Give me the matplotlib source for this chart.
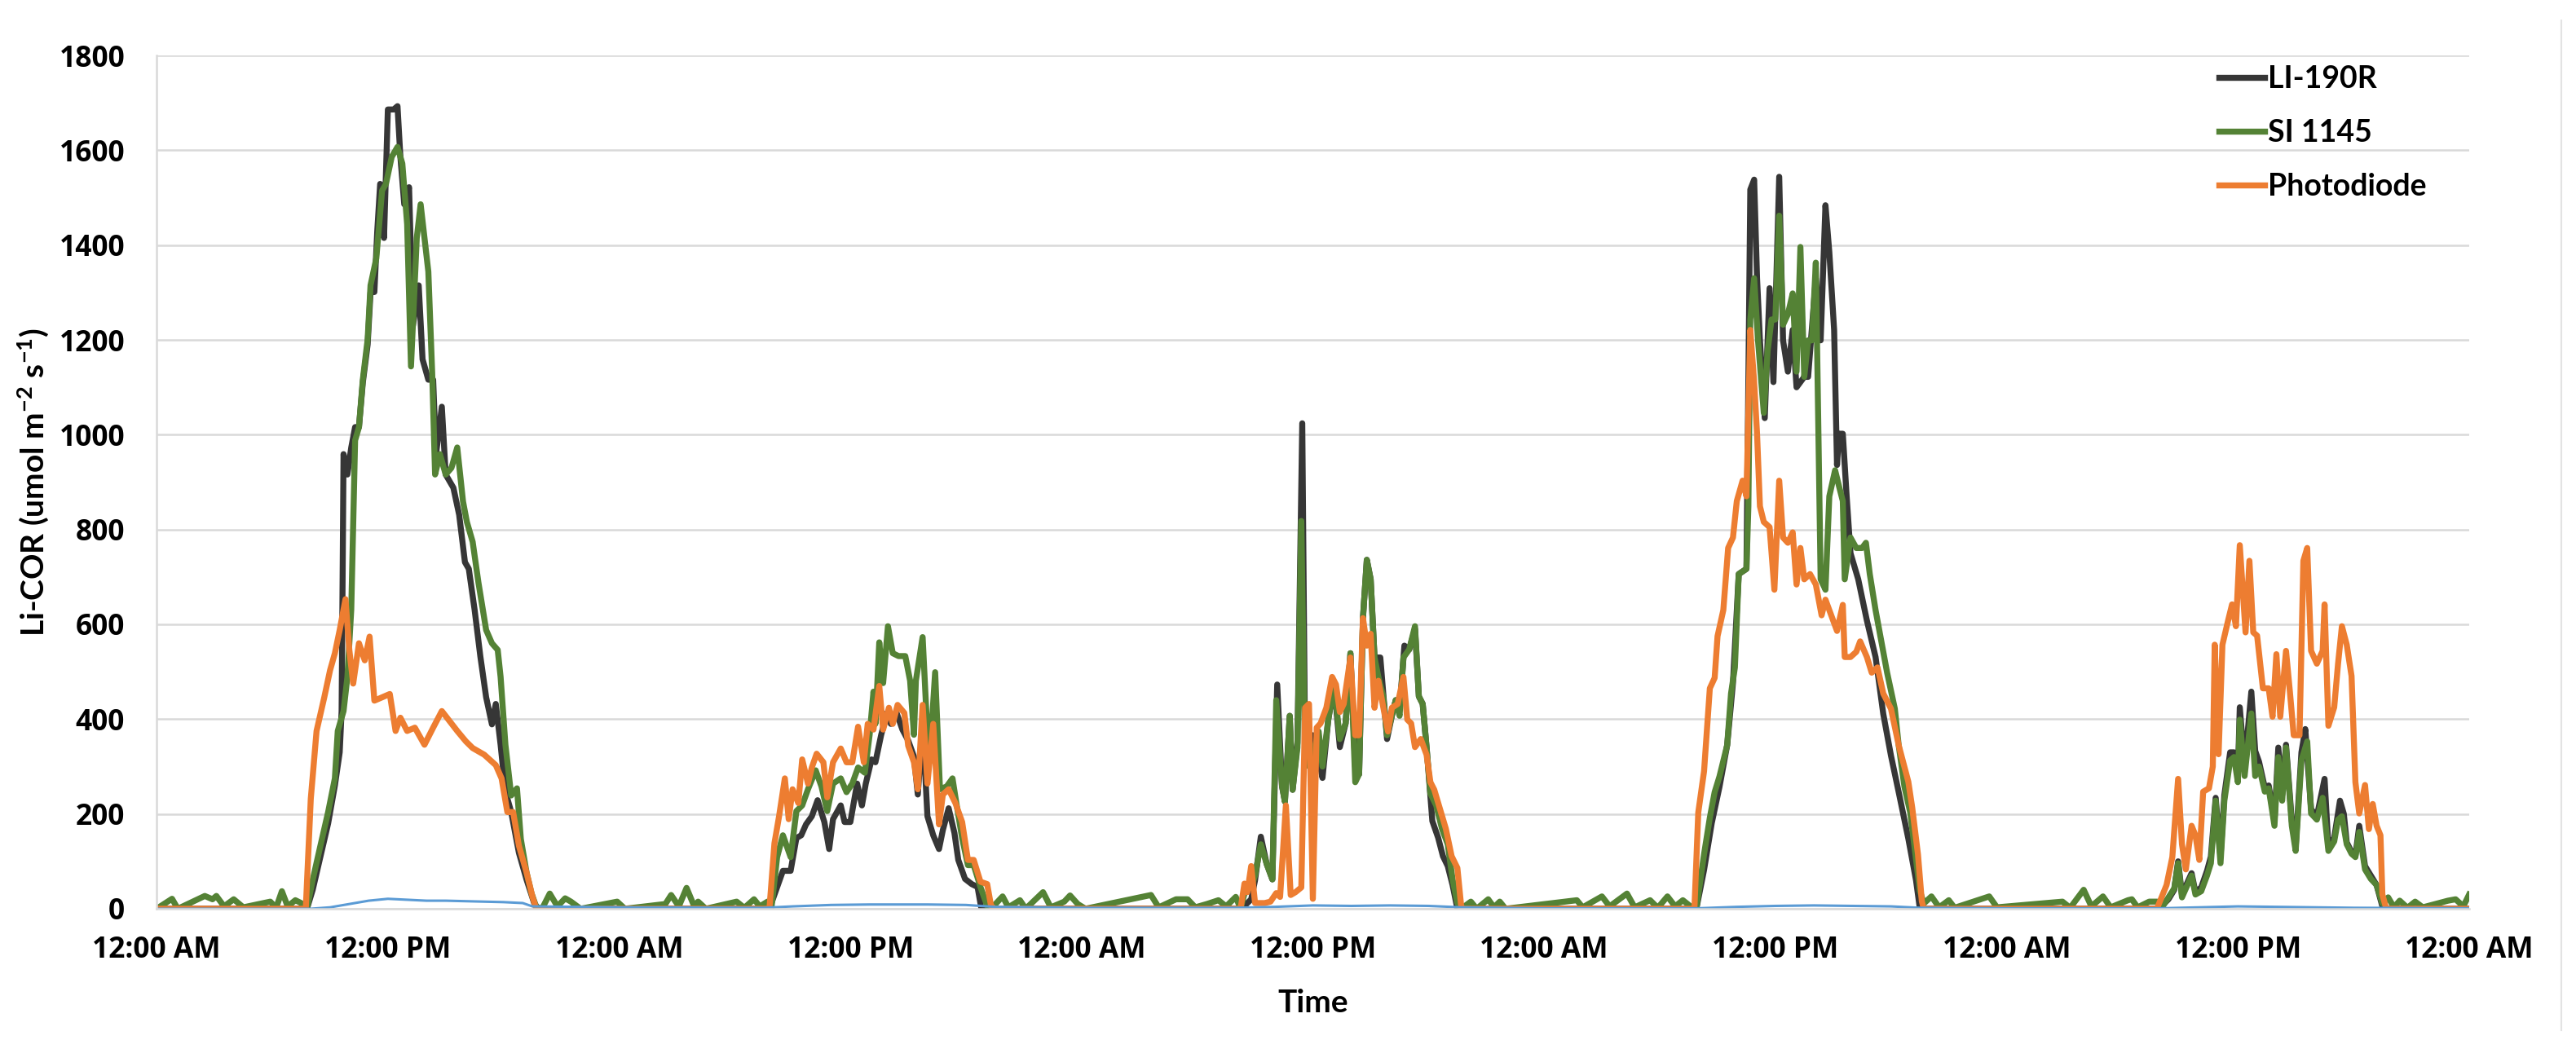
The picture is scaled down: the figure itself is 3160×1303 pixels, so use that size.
import numpy as np
import matplotlib.pyplot as plt
from matplotlib.lines import Line2D

# five days of PAR readings, time in hours from the first midnight
li190r_hours = [0, 7.8, 8.1, 8.5, 8.9, 9.25, 9.5, 9.6, 9.7, 9.9, 10.1, 10.3, 10.5, 10.7, 10.95, 11.1, 11.3, 11.45,
                11.6, 11.8, 12.0, 12.3, 12.5, 12.65, 12.85, 13.1, 13.3, 13.6, 13.8, 14.1, 14.35, 14.5, 14.8, 15.0,
                15.4, 15.7, 16.0, 16.2, 16.5, 16.8, 17.1, 17.4, 17.6, 17.85, 18.1, 18.4, 18.8, 19.2, 19.6, 19.8,
                31.8, 32.2, 32.5, 32.9, 33.2, 33.45, 33.7, 34.0, 34.3, 34.65, 34.9, 35.1, 35.5, 35.7, 36.0, 36.35,
                36.6, 36.8, 37.1, 37.3, 37.6, 37.9, 38.1, 38.4, 38.7, 39.0, 39.3, 39.5, 39.75, 40.0, 40.3, 40.6,
                40.8, 41.1, 41.4, 41.6, 41.95, 42.3, 42.6, 42.8,
                56.3, 56.8, 57.0, 57.3, 57.6, 57.9, 58.15, 58.4, 58.55, 58.8, 58.95, 59.2, 59.45, 59.6, 59.8, 60.0,
                60.3, 60.5, 60.8, 61.1, 61.4, 61.7, 61.95, 62.2, 62.4, 62.6, 62.8, 63.0, 63.2, 63.5, 63.85, 64.1,
                64.3, 64.5, 64.75, 65.0, 65.3, 65.5, 65.7, 65.9, 66.2, 66.5, 66.75, 67.0, 67.25, 67.5,
                79.9, 80.3, 80.7, 81.1, 81.5, 81.8, 82.1, 82.5, 82.7, 82.9, 83.05, 83.2, 83.45, 83.7, 83.9, 84.2,
                84.4, 84.65, 84.9, 85.1, 85.5, 85.7, 86.1, 86.35, 86.6, 86.8, 87.05, 87.2, 87.3, 87.5, 87.7, 87.9,
                88.3, 88.75, 89.2, 89.6, 90.0, 90.4, 90.9, 91.3, 91.5,
                103.9, 104.4, 104.7, 104.9, 105.1, 105.6, 105.8, 106.1, 106.4, 106.6, 106.85, 107.1, 107.3, 107.6,
                107.8, 108.0, 108.1, 108.35, 108.7, 108.9, 109.1, 109.4, 109.6, 109.9, 110.1, 110.3, 110.5, 110.8,
                111.0, 111.3, 111.5, 111.8, 112.1, 112.5, 112.7, 113.0, 113.3, 113.5, 113.65, 113.9, 114.1, 114.3,
                114.6, 114.9, 115.2, 115.5, 115.7, 120]
li190r = [0, 0, 40, 110, 180, 260, 330, 417, 959, 916, 973, 1016, 1016, 1110, 1190, 1300, 1301, 1430,
          1529, 1415, 1686, 1686, 1693, 1586, 1486, 1522, 1230, 1315, 1159, 1116, 1116, 959, 1059, 916,
          888, 831, 731, 717, 631, 532, 446, 389, 432, 346, 247, 204, 118, 61, 11, 0,
          0, 46, 80, 80, 149, 155, 178, 195, 229, 183, 126, 189, 218, 183, 183, 264,
          218, 264, 315, 309, 367, 413, 390, 413, 378, 355, 321, 241, 390, 195, 155, 126,
          166, 212, 160, 103, 63, 52, 46, 0,
          0, 20, 60, 152, 95, 62, 473, 259, 226, 407, 251, 350, 1024, 320, 366, 366,
          320, 276, 399, 473, 341, 391, 539, 300, 284, 613, 736, 695, 530, 530, 358, 407,
          440, 420, 555, 547, 590, 448, 432, 341, 185, 150, 111, 90, 50, 0,
          0, 82, 181, 257, 345, 476, 706, 717, 1517, 1538, 1330, 1199, 1035, 1309, 1111, 1544,
          1199, 1133, 1221, 1100, 1122, 1122, 1330, 1199, 1484, 1385, 1221, 936, 1002, 1002, 870, 750,
          695, 608, 531, 411, 323, 246, 148, 60, 0,
          0, 20, 40, 100, 30, 75, 35, 45, 80, 110, 234, 110, 240, 330,
          330, 280, 425, 300, 458, 333, 310, 255, 260, 185, 340, 240, 346, 185,
          130, 330, 379, 210, 195, 274, 130, 150, 228, 200, 140, 120, 112, 175,
          90, 70, 50, 5, 0, 0]

si1145_hours = [0, 0.8, 1.1, 2.5, 2.9, 3.1, 3.5, 4.0, 4.5, 5.9, 6.2, 6.5, 6.8, 7.2, 7.5, 7.8,
                8.1, 8.5, 8.9, 9.25, 9.4, 9.7, 9.9, 10.1, 10.3, 10.5, 10.7, 10.95, 11.1, 11.4, 11.7, 11.9,
                12.2, 12.5, 12.75, 13.0, 13.2, 13.5, 13.7, 14.1, 14.3, 14.45, 14.7, 15.0, 15.3, 15.6, 15.9, 16.1,
                16.4, 16.7, 17.1, 17.4, 17.7, 17.85, 18.1, 18.4, 18.7, 18.9, 19.2, 19.45, 19.7,
                20.0, 20.4, 20.8, 21.2, 21.5, 22.0, 23.9, 24.3, 26.4, 26.7, 27.1, 27.5, 27.9, 28.1, 28.5,
                30.1, 30.5, 31.0, 31.3, 31.7, 31.9,
                32.2, 32.5, 32.9, 33.2, 33.5, 33.8, 34.2, 34.5, 34.8, 35.1, 35.5, 35.8, 36.1, 36.4, 36.75, 37.0,
                37.2, 37.3, 37.5, 37.7, 37.95, 38.2, 38.5, 38.85, 39.1, 39.3, 39.4, 39.75, 40.0, 40.1, 40.4, 40.65,
                41.0, 41.3, 41.5, 41.8, 42.1, 42.4, 42.75, 43.1, 43.3,
                43.9, 44.2, 44.8, 45.1, 46.0, 46.4, 47.1, 47.4, 47.8, 48.2, 51.6, 52.0, 52.9, 53.5, 53.9, 54.5,
                55.1, 55.5, 56.0, 56.25,
                56.5, 56.8, 57.0, 57.3, 57.6, 57.9, 58.1, 58.4, 58.55, 58.8, 58.95, 59.2, 59.4, 59.6, 59.8, 60.0,
                60.3, 60.5, 60.8, 61.1, 61.4, 61.7, 61.95, 62.2, 62.4, 62.6, 62.8, 63.0, 63.2, 63.4, 63.65, 63.85,
                64.1, 64.3, 64.5, 64.7, 65.0, 65.3, 65.5, 65.7, 65.9, 66.1, 66.4, 66.7, 67.0, 67.25, 67.5, 67.7,
                68.2, 68.5, 69.1, 69.4, 69.7, 70.0, 73.7, 74.0, 75.0, 75.4, 76.3, 76.7, 77.5, 77.9, 78.4, 78.8,
                79.2, 79.6, 79.9,
                80.3, 80.6, 80.85, 81.1, 81.5, 81.7, 81.9, 82.1, 82.5, 82.6, 82.7, 82.9, 83.1, 83.4, 83.6, 83.8,
                84.0, 84.2, 84.4, 84.65, 84.9, 85.1, 85.3, 85.5, 85.7, 85.9, 86.1, 86.35, 86.6, 86.8, 87.1, 87.3,
                87.5, 87.6, 87.9, 88.2, 88.5, 88.7, 88.9, 89.2, 89.5, 89.8, 90.2, 90.4, 90.7, 91.0, 91.3, 91.5, 91.7,
                92.1, 92.5, 93.0, 93.3, 95.1, 95.5, 98.9, 99.3, 100.0, 100.4, 101.0, 101.4, 102.3, 102.5, 102.8,
                103.4, 103.8,
                104.1, 104.4, 104.7, 104.9, 105.1, 105.6, 105.8, 106.1, 106.4, 106.6, 106.85, 107.1, 107.3, 107.6,
                107.8, 108.0, 108.1, 108.35, 108.7, 108.9, 109.1, 109.4, 109.6, 109.9, 110.1, 110.3, 110.5, 110.8,
                111.0, 111.3, 111.6, 111.8, 112.1, 112.4, 112.7, 113.0, 113.2, 113.4, 113.65, 113.9, 114.1, 114.3,
                114.6, 114.9, 115.2, 115.5, 115.8,
                116.1, 116.4, 116.8, 117.2, 117.6, 118.9, 119.3, 119.7, 120.0]
si1145 = [0, 21, 0, 27, 20, 27, 5, 20, 3, 15, 2, 37, 5, 18, 12, 0,
          61, 133, 204, 275, 375, 417, 489, 631, 988, 1016, 1116, 1201, 1315, 1372, 1515, 1529,
          1586, 1607, 1572, 1444, 1144, 1415, 1486, 1344, 1130, 916, 959, 916, 930, 973, 859, 816,
          774, 688, 588, 560, 546, 489, 346, 239, 254, 147, 76, 33, 4,
          0, 32, 5, 22, 15, 0, 15, 0, 10, 29, 5, 44, 5, 15, 0,
          15, 2, 20, 5, 15, 0,
          109, 155, 109, 206, 218, 252, 292, 258, 206, 264, 275, 246, 264, 298, 287, 367,
          458, 390, 562, 476, 596, 539, 533, 533, 481, 367, 481, 573, 367, 309, 499, 252,
          258, 275, 223, 149, 92, 92, 46, 6, 0,
          26, 3, 18, 0, 35, 3, 15, 28, 10, 0, 29, 3, 20, 20, 3, 10,
          18, 5, 25, 0,
          40, 45, 70, 136, 95, 62, 440, 259, 226, 407, 251, 340, 818, 300, 325, 325,
          374, 300, 399, 473, 358, 391, 539, 267, 284, 613, 736, 695, 530, 489, 448, 366,
          407, 440, 407, 530, 547, 596, 448, 432, 341, 243, 218, 169, 136, 62, 12, 0,
          15, 0, 20, 3, 15, 0, 18, 3, 26, 5, 32, 3, 18, 2, 26, 5,
          18, 5, 0,
          115, 192, 246, 279, 345, 454, 509, 706, 717, 849, 1243, 1330, 1199, 1046, 1177, 1243,
          1243, 1462, 1232, 1254, 1298, 1133, 1396, 1122, 1199, 1199, 1363, 695, 673, 870, 925, 892,
          860, 695, 783, 761, 761, 772, 706, 630, 564, 498, 422, 345, 257, 203, 104, 38, 11,
          26, 3, 18, 2, 26, 3, 15, 2, 40, 5, 26, 3, 18, 20, 3,
          15, 15,
          5, 24, 43, 96, 24, 70, 30, 37, 70, 96, 228, 96, 228, 313,
          320, 267, 399, 280, 412, 280, 300, 247, 254, 175, 320, 228, 340, 175,
          122, 313, 353, 201, 188, 234, 122, 142, 188, 195, 136, 116, 109, 162,
          83, 63, 50, 11, 24,
          3, 17, 2, 15, 3, 17, 20, 5, 30]

photodiode_hours = [0, 7.74, 8.0, 8.3, 8.7, 9.0, 9.25, 9.5, 9.8, 10.0, 10.2, 10.5, 10.8, 11.05, 11.3, 11.7,
                    12.1, 12.4, 12.65, 13.0, 13.4, 13.9, 14.35, 14.8, 15.2, 15.6, 16.05, 16.4, 17.0, 17.6, 17.9,
                    18.2, 18.5, 18.8, 19.2, 19.5, 19.7,
                    31.8, 32.06, 32.3, 32.6, 32.8, 33.0, 33.3, 33.5, 33.8, 34.0, 34.25, 34.6, 34.8, 35.1, 35.5,
                    35.8, 36.1, 36.4, 36.7, 36.9, 37.2, 37.5, 37.7, 38.0, 38.2, 38.45, 38.8, 39.0, 39.3, 39.5,
                    39.75, 40.0, 40.3, 40.6, 40.8, 41.1, 41.45, 41.8, 42.1, 42.4, 42.75, 43.1, 43.3, 43.5,
                    56.25, 56.45, 56.6, 56.8, 57.0, 57.5, 57.8, 58.1, 58.3, 58.6, 58.85, 59.1, 59.4, 59.6, 59.8,
                    60.0, 60.2, 60.4, 60.7, 61.0, 61.2, 61.4, 61.6, 61.95, 62.2, 62.4, 62.6, 62.8, 63.0, 63.2,
                    63.4, 63.7, 63.9, 64.1, 64.4, 64.7, 64.9, 65.1, 65.3, 65.6, 65.9, 66.1, 66.3, 66.6, 66.9,
                    67.2, 67.5, 67.7, 67.8,
                    79.8, 80.0, 80.3, 80.6, 80.85, 81.0, 81.3, 81.55, 81.8, 82.0, 82.3, 82.5, 82.7, 82.9, 83.05,
                    83.2, 83.4, 83.7, 83.95, 84.2, 84.4, 84.65, 84.9, 85.1, 85.3, 85.5, 85.8, 86.1, 86.4, 86.6,
                    86.9, 87.2, 87.5, 87.6, 87.9, 88.2, 88.4, 88.75, 89.0, 89.3, 89.6, 90.0, 90.4, 90.9, 91.1,
                    91.4, 91.6, 91.7,
                    103.8, 104.3, 104.6, 104.9, 105.1, 105.3, 105.6, 105.8, 106.0, 106.2, 106.5, 106.7, 106.8,
                    107.0, 107.2, 107.5, 107.7, 107.9, 108.1, 108.4, 108.6, 108.8, 109.0, 109.3, 109.6, 109.8,
                    110.0, 110.2, 110.5, 110.7, 110.9, 111.2, 111.4, 111.6, 111.8, 112.1, 112.4, 112.5, 112.7,
                    113.0, 113.2, 113.4, 113.65, 113.9, 114.1, 114.3, 114.6, 114.8, 115.0, 115.2, 115.4, 115.5,
                    115.7, 120]
photodiode = [0, 0, 232, 375, 446, 503, 539, 588, 653, 546, 475, 560, 524, 574, 439, 446,
              453, 375, 403, 375, 382, 346, 382, 417, 396, 375, 353, 339, 325, 303, 275,
              204, 204, 133, 76, 26, 0,
              0, 138, 195, 275, 189, 252, 223, 315, 264, 298, 327, 309, 235, 309, 338,
              309, 309, 384, 309, 390, 378, 470, 378, 424, 390, 430, 413, 344, 309, 252,
              430, 264, 390, 178, 241, 252, 223, 183, 103, 103, 57, 52, 6, 0,
              0, 53, 35, 90, 12, 12, 15, 33, 25, 218, 29, 35, 45, 424, 432,
              21, 382, 391, 424, 489, 473, 415, 432, 530, 366, 366, 613, 555, 580, 424,
              481, 415, 374, 424, 432, 489, 399, 391, 341, 358, 325, 267, 251, 210, 169,
              111, 86, 4, 0,
              0, 203, 290, 465, 487, 575, 630, 761, 783, 860, 903, 870, 1221, 1111, 1002,
              849, 816, 805, 673, 903, 783, 772, 794, 684, 761, 695, 706, 684, 619, 652,
              619, 586, 641, 531, 531, 542, 564, 531, 498, 509, 454, 422, 345, 268, 214,
              115, 16, 0,
              0, 50, 109, 274, 136, 83, 175, 155, 103, 247, 254, 300, 557,
              326, 557, 609, 642, 596, 767, 583, 734, 583, 576, 465, 465, 405,
              537, 405, 544, 458, 366, 366, 734, 761, 544, 517, 544, 642, 386,
              425, 517, 596, 557, 491, 267, 201, 261, 168, 221, 175, 155, 30,
              0, 0]

# unlabelled reference trace sitting just above zero
blue_hours = [0, 8, 9, 10, 11, 12, 13, 14, 15, 16, 17, 18, 19, 19.5, 24, 31.5, 33, 35, 37, 40, 42, 43.5,
              48, 56, 58, 60, 62, 64, 66, 67.7, 72, 80, 82, 84, 86, 88, 90, 91.5, 96, 104, 106, 108, 110,
              112, 114, 120]
blue = [0, 0, 3, 10, 17, 21, 19, 17, 17, 16, 15, 14, 12, 5, 3, 2, 5, 8, 9, 9, 8, 4,
        2, 2, 4, 7, 6, 7, 6, 3, 1, 1, 4, 6, 7, 6, 5, 2, 1, 1, 3, 5, 4,
        3, 2, 1]

tick_hours = np.arange(0, 121, 12)
tick_labels = ['12:00 AM' if h % 24 == 0 else '12:00 PM' for h in tick_hours]

plt.rcParams['mathtext.default'] = 'regular'

fig = plt.figure(figsize=(31.6, 13.03), dpi=100)
fig.subplots_adjust(left=0.0608, right=0.9585, bottom=0.1443, top=0.9478)
ax = fig.add_subplot(111)

lw = 5.3
ax.plot(li190r_hours, li190r, color='#363636', lw=lw, solid_joinstyle='round', label='LI-190R')
ax.plot(si1145_hours, si1145, color='#548235', lw=lw, solid_joinstyle='round', label='SI 1145')
ax.plot(photodiode_hours, photodiode, color='#ED7D31', lw=lw, solid_joinstyle='round', label='Photodiode')
ax.plot(blue_hours, blue, color='#5B9BD5', lw=2.2)

ax.set_xlim(0, 120)
ax.set_ylim(0, 1800)
ax.set_yticks(np.arange(0, 1801, 200))
ax.set_xticks(tick_hours)
ax.set_xticklabels(tick_labels)

tick_font = dict(family='Open Sans', weight='bold', size=25.5)
for lab in ax.get_xticklabels() + ax.get_yticklabels():
    lab.set_fontproperties(tick_font)
ax.tick_params(axis='both', length=0)
ax.tick_params(axis='y', pad=28)
ax.tick_params(axis='x', pad=24)

ax.yaxis.grid(True, color='#d9d9d9', lw=1.8)
ax.set_axisbelow(True)
for side in ['top', 'right']:
    ax.spines[side].set_visible(False)
for side in ['left', 'bottom']:
    ax.spines[side].set_color('#d9d9d9')
    ax.spines[side].set_linewidth(1.8)

ax.set_xlabel('Time', family='Lato', weight='bold', size=28)
ax.set_ylabel('Li-COR (umol m$^{-2}$ s$^{-1}$)', family='Lato', weight='bold', size=28)
ax.xaxis.set_label_coords(0.5, -0.094)
ax.yaxis.set_label_coords(-0.046, 0.5)

ax.legend(loc='upper left', bbox_to_anchor=(2722 / 3160, 1 - 80 / 1303), bbox_transform=fig.transFigure,
          frameon=False, borderpad=0, borderaxespad=0, handlelength=1.5, handletextpad=0.1,
          labelspacing=0.85, prop=dict(family='Lato', weight='bold', size=27))

# faint frame edge on the right of the original picture
fig.add_artist(Line2D([3142 / 3160, 3142 / 3160], [1 - 25 / 1303, 1 - 1264 / 1303],
                      transform=fig.transFigure, color='#e3e3e3', lw=1.5))

fig.savefig('out.png', dpi=100)
